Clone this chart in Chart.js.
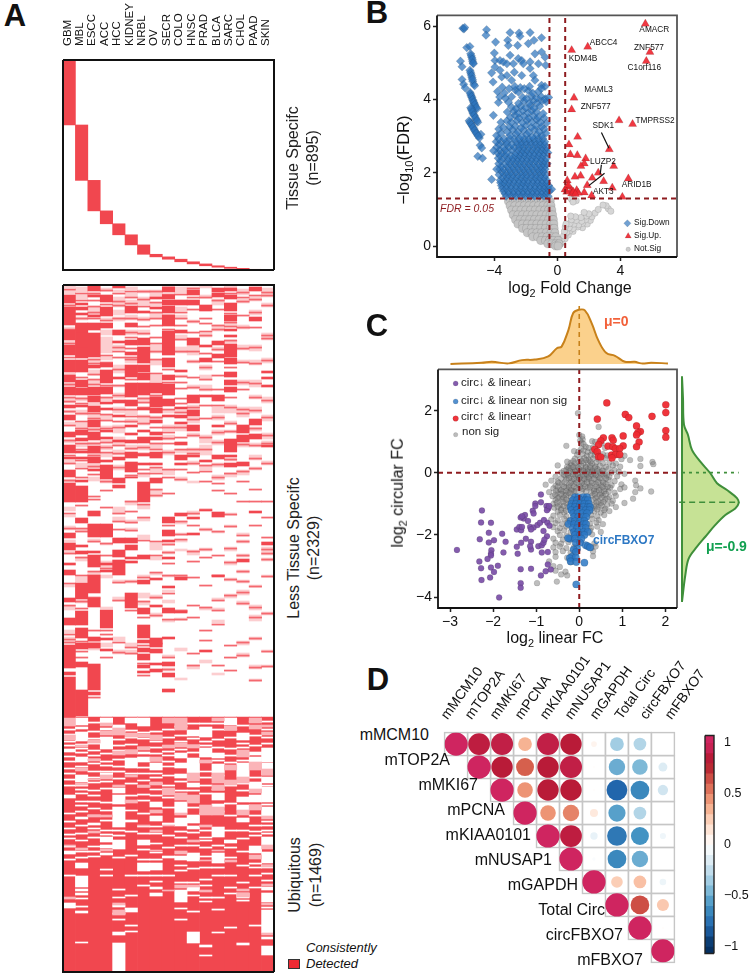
<!DOCTYPE html>
<html>
<head>
<meta charset="utf-8">
<title>circRNA panels</title>
<script src="https://cdn.jsdelivr.net/npm/chart.js@4/dist/chart.umd.min.js"></script>
<style>
html,body{margin:0;padding:0;background:#fff;width:750px;height:975px;overflow:hidden;font-family:"Liberation Sans",Arial,sans-serif;color:#111}
canvas{position:absolute}
.t{position:absolute;white-space:nowrap;line-height:1.15}
.t sub{font-size:68%;line-height:0}
</style>
</head>
<body>
<script>
// ---------- panel A ----------
const tissues = ['GBM','MBL','ESCC','ACC','HCC','KIDNEY','NRBL','OV','SECR','COLO','HNSC','PRAD','BLCA','SARC','CHOL','PAAD','SKIN'];
// last row of each tissue's block, n=895 rows in all
const specificEnd = [277,513,643,698,745,788,828,839,849,860,869,877,883,888,892,894,895];

// bands in the lower matrix, as start,end pairs per tissue (687 binned rows, top down)
const lessSolid = [
 [10,18,22,40,45,55,60,70,75,87,90,97,102,110,120,123,130,135,147,152,160,168,172,174,185,192,198,217,248,253,258,265,278,280,285,290,313,317,333,340,360,383,387,390,392,432],
 [18,20,22,25,28,30,38,48,48,63,63,73,75,87,95,102,103,110,120,122,145,150,153,156,166,168,172,174,195,197,201,217,233,238,260,262,266,269,298,314,326,340,343,353,358,364,377,382,405,431],
 [0,6,10,12,30,32,38,45,48,72,80,83,102,110,111,117,121,127,135,142,147,155,161,168,172,178,184,186,226,231,239,252,266,268,270,282,290,308,313,322,352,356,358,363,379,405,407,410],
 [10,17,22,31,38,43,78,82,85,98,102,109,117,119,123,125,145,147,152,154,175,177,180,194,239,252,278,280,285,287,325,343,353,355,364,366],
 [0,3,45,50,56,58,92,94,115,118,130,132,155,157,172,175,193,198,200,203,253,258,265,272,275,290],
 [21,28,38,42,55,60,67,70,80,92,98,112,115,121,140,142,148,150,155,158,167,173,177,187,192,193,253,258,260,265,272,274,276,278,308,323],
 [26,28,53,60,62,78,80,87,88,95,98,110,123,125,145,147,152,158,169,171,178,180,197,217,270,274,295,299,323,329,340,353,355,358,363,367,369,375,380,383,386,388],
 [12,14,22,24,98,108,112,122,123,128,135,138,147,150,152,155,167,173,178,180,193,198,293,295,320,322,353,362,364,368,378,380,384,387],
 [2,7,10,14,15,20,21,28,30,41,46,63,63,70,73,82,90,95,99,110,114,121,130,132,232,238,245,251,255,257,272,274,301,303,323,328,352,354,377,381,388,392,404,407],
 [15,20,45,48,85,87,122,124,130,133,137,139,157,160,170,175,178,180,228,231,292,295,326,328],
 [5,10,15,20,53,60,110,118,125,131,140,146,170,172,232,234,248,250],
 [20,26,60,62,73,77,110,112,175,177,225,226,365,367],
 [3,7,8,12,56,60,69,73,110,116,140,142,170,174,227,232,290,292],
 [3,6,10,14,18,26,30,36,44,46,50,52,59,72,73,79,87,92,95,100,102,107,154,167,170,172,178,182],
 [140,148,150,157,177,181,274,277],
 [2,6,32,36,134,140,149,154,226,228],
 [86,88,92,94,100,102,160,162,257,260]
];
const lessPale = [
 [0,3,5,9,19,21,42,44,56,58,88,90,98,101,112,118,125,128,137,140,154,158,175,178,194,197,222,226,230,232,241,245,255,257,266,268,300,302,321,325,345,348,352,358],
 [2,7,10,14,32,35,112,116,125,130,138,143,158,162,178,182,244,246,272,276,292,297,315,318],
 [8,10,22,30,74,78,85,90,95,100,118,120,128,134,143,146,157,160,168,171,179,183,192,196,254,257,287,290,356,358,363,365],
 [3,6,33,36,45,50,52,68,72,75,100,101,112,116,130,135,141,144,155,158,160,165,168,172,195,198,258,260,276,283,290,293,322,324,358,362],
 [5,7,12,22,25,30,32,36,60,65,80,88,100,102,108,113,122,128,140,148,152,160,165,170,180,185,222,228,232,236,295,298,312,316,352,356,365,369],
 [2,5,8,12,15,20,30,35,45,50,72,78,125,130,134,138,160,165,190,192,216,220,235,238,243,246,295,298,358,362,365,369],
 [5,8,12,20,32,36,45,50,112,118,130,140,160,165,188,192,220,224,233,236,250,254,290,293,308,313,316,320],
 [5,12,18,21,28,34,60,68,75,80,90,97,110,112,131,134,158,164,183,187,205,212,258,265,272,275,288,290,310,314,328,332],
 [0,2,125,128,140,146,150,155,165,170,185,190,258,260,266,269,290,292,305,307,315,318,335,337,370,372,383,386],
 [2,8,22,26,30,34,50,55,62,68,90,92,125,128,140,146,165,168,192,196,236,239,248,250,255,257,264,266,290,292,325,327,333,335,363,366,393,395],
 [2,4,35,38,60,70,75,78,100,104,120,125,132,138,148,152,163,170,176,180,196,198,226,230,265,270,380,384],
 [0,3,10,13,48,52,80,85,90,95,100,106,150,158,160,170,180,185,243,246,263,266,322,325,375,378],
 [14,20,40,46,62,66,122,128,130,135,145,150,155,160,178,182,190,195,246,248,313,315,323,325,335,338,388,390],
 [0,3,37,42,55,58,120,128,136,140,145,148,173,176,188,192,228,230,240,242,262,266,276,280,293,296,309,313],
 [4,10,14,18,40,44,60,65,75,78,95,100,122,132,158,162,185,190,248,250,255,258,269,272,285,288,295,298,305,310,316,320,356,360,368,372],
 [12,16,25,30,60,66,75,80,95,102,110,114,122,128,142,146,158,162,170,175,182,185,300,302,320,325,330,336,352,355,380,384,394,396],
 [3,12,18,22,48,55,73,78,112,118,130,136,148,154,156,160,176,180,262,270,273,276,290,292,327,330,365,367,380,382]
];
// single thin detected lines, start bin only
const lessThin = [
 [4,20,44,58,72,99,112,116,126,140,155,170,178,195,228,243,268,298,320,349,354,357],
 [8,15,33,92,113,118,128,136,143,158,164,175,183,192,220,243,246,272,290,316,323,356,366,372],
 [8,15,21,27,33,74,78,89,94,99,128,133,144,158,170,181,189,211,214,256,286,312,345,412],
 [5,19,35,70,77,100,112,129,135,143,157,162,167,196,205,222,258,270,283,345,349,372],
 [8,16,20,33,62,66,72,84,100,110,124,136,142,160,168,182,228,236,244,297,315,357,367],
 [6,12,18,33,47,52,63,72,74,94,124,131,136,163,168,190,216,226,237,245,296,325,362,368],
 [6,14,21,34,41,48,113,117,122,131,138,162,168,184,188,219,232,255,292,316,332,360,378,390],
 [6,17,27,33,40,52,58,66,74,88,110,132,142,158,164,182,188,204,210,256,270,287,312,330,358],
 [9,30,44,84,97,124,142,147,153,158,167,184,192,208,240,259,267,278,290,308,334,372,384],
 [9,27,33,40,54,66,91,97,103,113,118,127,142,152,164,184,194,236,249,254,290,325,334],
 [3,12,24,36,47,66,76,92,102,122,134,150,164,168,178,187,228,240,266,276,292,320,332,368,380],
 [12,33,38,46,50,68,82,94,104,120,133,152,164,180,186,196,224,244,264,272,300,322,345,355],
 [15,24,40,44,64,76,90,104,120,132,147,157,179,192,198,205,246,270,290,315,325,339,380],
 [8,28,37,41,55,82,112,122,138,146,174,188,208,229,241,263,277,294,310,360,372,385],
 [7,12,16,30,42,63,77,97,104,124,128,159,186,196,216,250,256,270,286,296,307,318,357,370],
 [10,14,27,42,62,78,98,112,125,143,160,173,183,204,216,240,301,322,332,353,382,395],
 [7,10,20,50,53,75,115,132,150,158,178,216,232,252,264,268,274,291,328,366,381]
];
// ubiquitous block is filled from row 432 down, these are the undetected / partial bands in it
const ubiquitousStart = 432, matrixEnd = 687;
const ubiGaps = [
 [464,467,471,472,476,477,483,484,510,513,528,529,543,544,553,554,566,569,618,623],
 [433,440,442,444,447,456,472,477,490,497,508,509,516,517,532,534,555,556,578,583,591,602,604,606,608,610,613,614,626,628,657,658],
 [465,466,478,479,486,487,497,498,505,506,523,524,538,540,543,544,561,562,571,572],
 [433,438,443,445,452,464,488,491,525,526,545,546,552,557,560,563,568,570],
 [440,443,465,466,503,508,510,519,522,542,555,564,612,613,620,622,647,650,658,686],
 [433,438,473,483,525,526,535,537,623,627,646,647],
 [433,441,467,469,472,477,488,489,495,496,541,542,555,560,578,586],
 [478,485,488,489,504,505,517,522,531,536,541,542,558,559,567,568,578,585,602,604,608,611],
 [470,471,481,482,538,540,571,573],
 [468,473,478,483,489,493,517,528,533,541,571,575,580,581,605,617,623,624],
 [445,451,473,488,498,502,530,538,541,544,568,576,602,606,610,611,647,658],
 [442,452,463,472,486,487,552,553,555,556,571,572,600,601,616,617,660,662,670,671],
 [468,473,479,488,508,515,519,522,542,552,568,578,647,648],
 [433,440,555,558,608,609],
 [448,455,478,492,512,517,520,525,533,537,608,613,658,660],
 [467,470,472,477,497,504,510,517,546,547,561,568,582,583,602,603],
 [463,477,478,490,492,498,502,517,522,531,540,541,552,560,567,578,580,583,602,605,608,617,625,648,652,654,661,670]
];
const ubiPale = [
 [433,441,450,455,560,561,612,614],
 [460,462,483,486,498,500,563,565],
 [455,458,474,476,494,495,530,532,546,548],
 [438,441,446,450,490,494,530,532,564,566],
 [443,450,466,470,500,502,618,620,625,630],
 [448,452,465,469,490,492,515,518],
 [449,452,462,465,500,502,540,541],
 [450,455,472,476,497,500,525,528,545,547,565,566],
 [433,438,460,463,503,510,540,541,605,606],
 [433,445,458,462,508,515,528,530,566,569,600,603],
 [460,463,488,496,510,518,555,557,600,602],
 [475,478,520,530,540,542,575,576,605,607],
 [433,436,488,498,500,505,522,530,565,566],
 [441,445,480,485,495,500,575,577],
 [465,472,492,498,525,530,604,606,608,612],
 [433,438,440,444,477,485,504,508,520,525,570,574],
 [440,442,447,450,484,490,531,534,560,564,580,582,599,601,618,620,648,650]
];
// one-bin white lines in the ubiquitous block
const ubiThin = [
 [444,449,456,460,488,494,500,536,549,561,574,590],
 [459,463,467,481,500,504,520,526,540,548,566,572,621],
 [437,446,453,458,470,474,492,510,516,530,552,566],
 [448,468,476,480,486,496,503,517,535,549,584,590],
 [446,454,460,474,481,486,493,545,550,572,604,628,634],
 [445,452,459,465,488,498,510,546,570,590,610,640],
 [447,453,462,482,501,509,515,528,548,564,574,590,600],
 [446,456,462,468,475,492,498,510,548,574,590,596],
 [444,452,461,466,476,490,500,512,522,550,562,590],
 [441,450,456,464,496,505,546,552,560,585,597,634],
 [438,453,460,467,491,505,522,547,560,583,597,626],
 [438,456,460,476,492,500,508,528,545,562,582,594,612],
 [438,444,454,462,475,490,504,526,560,582,590,612,624],
 [444,452,463,470,477,500,518,530,545,562,572,590,602,642],
 [440,458,462,470,475,498,505,545,553,566,580,597,615],
 [436,450,460,480,492,520,530,540,550,578,590,640],
 [436,444,452,458,500,519,536,545,548,588,595,622]
];

// ---------- panel B ----------
// rows of [ -log10 FDR, [log2 FC ...] ] for the tightly packed part
const downRows = [
 [1.36,[-3.25,-2.9,-2.62,-2.3,-2.02,-1.7,-1.45,-1.12,-.85,-.58]],
 [1.43,[-3.32,-3.05,-2.76,-2.45,-2.15,-1.87,-1.58,-1.28,-.98,-.72]],
 [1.5,[-3.42,-3.1,-2.78,-2.47,-2.18,-1.88,-1.57,-1.27,-.98,-.7,-.5]],
 [1.58,[-3.5,-3.25,-2.95,-2.62,-2.33,-2.03,-1.72,-1.42,-1.12,-.84,-.6]],
 [1.65,[-3.55,-3.22,-2.93,-2.6,-2.3,-2.02,-1.72,-1.4,-1.1,-.82,-.55]],
 [1.73,[-3.6,-3.38,-3.08,-2.78,-2.46,-2.18,-1.88,-1.56,-1.25,-.96,-.68]],
 [1.8,[-3.62,-3.3,-3.02,-2.72,-2.42,-2.12,-1.85,-1.52,-1.25,-.95,-.68]],
 [1.88,[-3.48,-3.18,-2.88,-2.58,-2.28,-1.98,-1.68,-1.38,-1.1,-.82]],
 [1.95,[-3.7,-3.35,-3.1,-2.82,-2.5,-2.2,-1.93,-1.62,-1.32,-1.02,-.72]],
 [2.03,[-3.52,-3.22,-2.92,-2.62,-2.3,-2.02,-1.72,-1.42,-1.12,-.88]],
 [2.1,[-3.65,-3.4,-3.05,-2.75,-2.45,-2.15,-1.85,-1.55,-1.25,-1.0,-.78]],
 [2.18,[-3.56,-3.16,-2.86,-2.55,-2.25,-1.96,-1.66,-1.36,-1.06,-.78]],
 [2.25,[-3.72,-3.3,-3.0,-2.68,-2.4,-2.1,-1.8,-1.5,-1.18,-.9,-.65]],
 [2.33,[-3.6,-3.15,-2.85,-2.55,-2.26,-1.95,-1.66,-1.36,-1.04,-.8]],
 [2.4,[-3.75,-3.45,-3.1,-2.8,-2.5,-2.22,-1.9,-1.6,-1.3,-1.0,-.7]],
 [2.48,[-3.65,-3.32,-2.95,-2.66,-2.38,-2.08,-1.78,-1.48,-1.18,-.9]],
 [2.55,[-3.8,-3.5,-3.2,-2.62,-2.3,-2.05,-1.75,-1.45,-1.15,-.85,-.6]],
 [2.63,[-3.66,-3.3,-2.88,-2.48,-2.2,-1.9,-1.6,-1.3,-1.0,-.75]],
 [2.7,[-3.85,-3.42,-3.05,-2.72,-2.4,-2.12,-1.82,-1.5,-1.22,-.95,-.68]],
 [2.78,[-3.7,-3.2,-2.88,-2.5,-2.25,-1.95,-1.65,-1.35,-1.08,-.82]],
 [2.85,[-3.88,-3.55,-3.22,-2.6,-2.28,-2.0,-1.7,-1.4,-1.1,-.8]],
 [2.93,[-3.72,-3.38,-3.0,-2.72,-2.4,-2.08,-1.8,-1.48,-1.18,-.92]]
];
// the looser points, x,y pairs
const downLoose = [-4.49,5.91,-4.53,5.76,-3.92,5.57,-3.0,5.83,-3.15,5.62,-3.11,5.48,-2.52,5.48,-2.43,5.82,-2.37,5.73,-1.73,5.83,-1.48,5.62,-1.84,5.53,-1,5.69,-4.0,5.27,-3.0,5.21,-1.42,5.25,-1,5.3,-1.73,5.03,-2.48,5.12,-2.26,5.07,-.78,5.16,-3.96,5.07,-3.64,5.07,-3.43,5.03,-3.2,4.98,-4.17,4.73,-3.96,4.89,-3.64,4.8,-3.53,4.62,-4.08,4.48,-2.79,4.98,-2.16,4.98,-1.73,4.85,-1.2,4.98,-.74,4.94,-2.26,4.66,-1.52,4.66,-1.42,4.53,-1,4.39,-.78,4.36,-2.73,4.75,-3.2,4.66,-2.9,4.53,
 -3.0,3.02,-2.62,3.06,-2.28,3.0,-1.94,3.05,-1.58,2.99,-1.28,3.04,-.98,3.02,-.72,3.08,-3.86,3.02,-3.58,3.08,-3.16,3.12,-2.84,3.18,-2.5,3.12,-2.14,3.17,-1.8,3.11,-1.44,3.18,-1.14,3.13,-.84,3.2,-3.72,3.2,-3.42,3.24,-3.02,3.26,-2.66,3.28,-2.3,3.23,-1.98,3.3,-1.66,3.24,-1.34,3.29,-1.0,3.26,-.68,3.36,-3.58,3.38,-3.2,3.42,-2.92,3.38,-2.56,3.43,-2.22,3.37,-1.92,3.43,-1.6,3.39,-1.3,3.45,-1.06,3.38,-.84,3.5,-2.98,3.52,-2.68,3.57,-2.42,3.5,-2.12,3.55,-1.82,3.5,-1.52,3.56,-1.22,3.52,-3.18,3.66,-2.76,3.68,-2.46,3.63,-2.18,3.7,-1.86,3.64,-1.62,3.7,-1.32,3.66,-.9,3.62,-2.92,3.8,-2.62,3.76,-2.32,3.82,-2.0,3.78,-1.7,3.83,-1.46,3.77,-1.12,3.82,-3.74,3.92,-3.1,3.93,-2.46,3.9,-2.12,3.96,-1.76,3.91,-1.5,3.97,-1.26,3.92,-.96,3.96,-.7,3.94,-3.66,4.07,-3.3,4.04,-2.9,4.08,-2.2,4.06,-1.95,4.03,-1.62,4.09,-1.3,4.05,-1.02,4.08,-.76,4.02,-.55,4.06,-3.8,4.22,-3.36,4.18,-2.66,4.26,-2.46,4.2,-1.84,4.24,-1.56,4.18,-1.2,4.22,-3.5,4.34,-3.06,4.3,-2.7,4.36,-2.35,4.33,-2.1,4.3,-1.76,4.36,-1.02,4.3,
 -6.0,5.95,-5.93,5.93,-5.88,5.97,-5.75,5.42,-5.55,5.45,-5.5,5.25,-5.43,5.15,-5.38,5.05,-5.33,4.98,-5.47,5.2,-5.4,5.1,-5.35,5.0,-6.15,5.05,-6.05,4.9,-5.55,4.8,-5.48,4.7,-5.42,4.6,-5.37,4.5,-5.3,4.42,-5.25,4.38,-5.51,4.75,-5.45,4.65,-5.39,4.55,-6.05,4.55,-5.95,4.42,-5.85,4.32,-5.55,4.2,-5.48,4.12,-5.42,4.05,-5.35,3.97,-5.28,3.9,-5.2,3.82,-5.1,3.75,-5.52,4.16,-5.45,4.08,-5.38,4.0,-5.31,3.93,-5.24,3.86,-5.15,3.78,-5.5,3.78,-5.42,3.7,-5.35,3.62,-5.25,3.55,-5.15,3.46,-5.05,3.38,-5.46,3.74,-5.38,3.66,-5.3,3.58,-5.2,3.5,-5.1,3.42,-5.6,3.42,-5.5,3.35,-5.4,3.28,-5.3,3.2,-5.2,3.12,-5.08,3.04,-4.95,2.95,-4.85,3.05,-5.55,3.38,-5.45,3.31,-5.35,3.24,-5.25,3.16,-5.14,3.08,-5.02,3.0,-4.9,2.75,-4.8,2.68,-5.05,2.45,-4.75,2.4,
 -4.06,3.57,-4.05,2.6,-4.17,1.82,-3.85,2.1,-.36,1.55];
const upPoints = [5.59,6.07,1.93,5.44,.91,5.35,5.88,5.30,5.65,5.05,1.06,4.05,.91,3.73,3.92,3.43,4.78,3.33,1.29,2.98,.74,2.77,3.30,2.64,.83,2.50,1.27,2.48,1.8,2.39,1.71,2.25,1.5,2.18,3.58,2.18,2.6,2.0,1.48,1.92,1.12,1.89,2.22,1.86,4.51,1.84,2.94,1.77,.63,1.79,1.9,1.66,3.49,1.59,.65,1.62,.49,1.54,.91,1.52,1.23,1.52,1.71,1.46,2.18,1.38,4.13,1.34,.91,1.43,1.33,1.45,.7,1.66,.6,1.48,1.02,1.48,1.15,1.42];
const notSigLeftRows = [
 [1.22,[-3.1,-2.8,-2.5,-2.2,-1.9,-1.6,-1.3,-1.0,-.7,-.45]],
 [1.1,[-3.0,-2.7,-2.4,-2.1,-1.8,-1.5,-1.2,-.9,-.6,-.4]],
 [.98,[-2.9,-2.6,-2.3,-2.0,-1.7,-1.4,-1.1,-.8,-.55,-.35]],
 [.85,[-2.8,-2.5,-2.2,-1.9,-1.6,-1.3,-1.0,-.7,-.45,-.3]],
 [.72,[-2.65,-2.35,-2.05,-1.75,-1.45,-1.15,-.85,-.55,-.3,-.25]],
 [.6,[-2.5,-2.2,-1.9,-1.6,-1.3,-1.0,-.7,-.42,-.22]],
 [.48,[-2.2,-1.95,-1.65,-1.35,-1.05,-.75,-.45,-.2]],
 [.36,[-1.9,-1.6,-1.3,-1.0,-.7,-.4,-.15]],
 [.25,[-1.55,-1.25,-.95,-.65,-.35,-.1]],
 [.15,[-1.05,-.75,-.5,-.25,.05]],
 [.06,[-.6,-.35,-.1,.1]],
 [.0,[-.1,.05]]
];
const notSigRight = [.2,.05,.35,.12,.15,.12,.5,.2,.3,.2,.7,.3,.5,.31,.4,.28,1.0,.4,.8,.42,.6,.38,.45,.4,1.6,.5,1.3,.52,1.0,.48,.75,.5,.5,.52,1.9,.6,1.6,.62,1.35,.58,1.05,.6,.8,.62,.55,.6,2.1,.7,1.8,.72,1.55,.68,1.2,.7,.9,.72,2.2,.8,1.85,.82,1.5,.78,1.15,.8,.85,.82,2.4,.9,2.0,.88,1.7,.92,2.6,1.0,3.24,1.02,3.4,.95,3.1,1.1,2.9,1.12,1.2,1.24,.9,1.28,1.0,1.2];
const volcanoCuts = {fcLow:-.5, fcHigh:.5, fdr:1.3};
const volcanoXTicks = [-4,0,4], volcanoYTicks = [0,2,4,6];

// ---------- panel C ----------
const bothUp = [.64,2.25,.42,1.73,1.07,1.88,1.15,1.78,1.69,1.82,2.01,2.19,2.01,1.94,2.01,1.36,2.01,1.15,1.33,1.51,1.42,1.33,1.36,1.29,1.33,1.22,1.02,1.19,1.39,.99,1.33,.84,1.02,.87,.76,1.13,.79,1.05,.56,1.13,.5,1.03,.45,.91,.36,.76,.67,.86,.78,.84,.84,.78,.94,.78,.42,.68,.45,.52,.75,.57,.84,.59,.94,.59,.76,.48,.5,.51];
const bothDown = [-2.84,-2.48,-2.26,-1.21,-2.28,-1.6,-2.05,-1.61,-2.1,-1.93,-2.31,-2.14,-2.1,-2.24,-1.98,-2.17,-1.79,-1.96,-1.71,-2.22,-2.04,-2.49,-2.05,-2.6,-1.76,-2.56,-2.05,-2.66,-2.13,-2.77,-2.32,-2.85,-2.28,-3.07,-2.05,-3.05,-1.89,-2.99,-1.98,-3.19,-2.07,-3.37,-2.27,-3.45,-1.86,-4.01,-1.36,-3.1,-1.12,-3.09,-1.36,-3.55,-1.36,-3.7,-.89,-3.3,-.78,-3.17,-.66,-3.11,-.73,-2.95,-1.43,-2.6,-1.12,-2.47,-1.45,-2.38,-1.35,-2.25,-1.24,-2.12,-1.12,-2.22,-1.14,-2.36,-.95,-2.36,-.87,-2.33,-.83,-2.25,-.75,-2.04,-.81,-2.15,-.87,-2.56,-.73,-2.55,-1.45,-1.82,-1.39,-1.74,-1.35,-1.85,-1.33,-1.74,-1.29,-1.47,-1.36,-1.44,-1.26,-1.36,-1.19,-1.55,-1.14,-1.74,-1.06,-1.76,-1.12,-1.82,-.97,-1.68,-.91,-1.61,-.82,-1.52,-.74,-1.61,-.69,-1.7,-.83,-1.87,-1.08,-1.22,-1.02,-.99,-.89,-.95,-1.02,-1.07,-.89,-.7,-.76,-1.07,-.72,-1.15,-.75,-1.2,-.7,-1.07,-1.06,-1.31,-1.33,-1.4];
const circOnlyRows = [
 [-.78,[-.1,-.02,.1,.18]],[-.88,[-.15,-.05,.05,.14,.2]],[-1,[-.18,-.08,.02,.12,.22]],[-1.1,[-.2,-.1,0,.1,.2,.25]],
 [-1.2,[-.18,-.06,.04,.15,.24]],[-1.3,[-.14,-.04,.08,.18]],[-1.42,[-.12,-.02,.1,.16]],[-1.55,[-.2,-.1,.02,.12]],
 [-1.65,[-.25,-.12,-.02,.1,.16]],[-1.78,[-.15,-.05,.06,.15]],[-1.9,[-.12,-.02,.1,.2]],[-2.0,[-.1,.02,.12]],
 [-2.12,[-.22,-.1,.05]],[-2.25,[-.08,.02]]
];
const circOnlyLoose = [-.05,-2.45,-.13,-2.47,.15,-2.33,.2,-2.36,.25,-2.4,-.08,-2.55,-.17,-2.7,-.22,-2.75,-.08,-2.72,-.2,-2.85,-.07,-2.87,.12,-2.89,-.07,-3.59,-.26,-2.1];
const notSigC = [-.03,1.92,.45,1.48,0,1.22,.07,1.17,.08,1.08,.02,1.04,.3,1.02,.05,.97,.1,.93,.37,1.0,.52,.95,-.3,.87,.15,.84,.22,.8,.33,.83,.6,.8,.05,.78,-.12,.7,-.02,.68,.1,.72,.2,.67,.3,.7,.4,.66,-.05,.58,.08,.6,.18,.55,.27,.58,.36,.56,.55,.6,.65,.56,.9,.57,1.05,.55,-.1,.46,.02,.43,.12,.47,.22,.42,.32,.46,.45,.43,.6,.47,.98,.44,1.18,.41,1.42,.45,-.2,.32,-.1,.3,0,.34,.1,.3,.2,.33,.3,.29,.4,.34,.55,.3,.7,.33,.85,.3,1.7,.35,1.72,.28,-.5,.24,-.28,.2,-.18,.24,-.06,.2,.05,.23,.15,.19,.26,.24,.38,.2,.48,.23,.62,.19,.78,.24,.95,.2,1.42,.22,-.3,.1,-.2,.13,-.1,.08,0,.12,.1,.08,.2,.12,.3,.08,.42,.12,.55,.08,.68,.13,.82,.09,
 -.42,.01,-.28,-.03,-.15,.02,-.05,-.03,.05,.02,.15,-.02,.25,.03,.35,-.02,.48,.02,.6,-.03,.75,.01,.92,.03,1.05,-.03,-.55,-.12,-.32,-.1,-.2,-.14,-.08,-.1,.02,-.14,.12,-.1,.22,-.13,.32,-.09,.45,-.14,.58,-.1,.7,-.13,.88,-.11,-.65,-.25,-.5,-.28,-.3,-.22,-.18,-.27,-.06,-.23,.06,-.27,.18,-.22,.28,-.27,.42,-.23,.55,-.28,.68,-.23,.82,-.27,1.3,-.25,-.78,-.38,-.55,-.41,-.4,-.36,-.25,-.4,-.12,-.35,0,-.4,.12,-.36,.25,-.41,.38,-.36,.5,-.4,.62,-.36,.75,-.4,.98,-.37,1.32,-.4,1.42,-.5,
 -.6,-.5,-.45,-.54,-.3,-.48,-.18,-.53,-.06,-.49,.08,-.52,.2,-.48,.34,-.53,.46,-.49,.6,-.52,.72,-.48,.95,-.52,1.05,-.47,1.67,-.6,-.7,-.62,-.5,-.65,-.38,-.6,-.25,-.64,-.12,-.6,.28,-.64,.4,-.6,.52,-.65,.68,-.6,.82,-.64,1.3,-.62,-.62,-.75,-.48,-.78,-.35,-.73,-.2,-.77,.3,-.73,.42,-.77,.55,-.73,.7,-.78,.85,-.74,-.55,-.88,-.4,-.85,-.25,-.9,.32,-.86,.45,-.9,.6,-.86,.78,-.9,1.25,-.83,1.05,-.97,-.6,-1.0,-.45,-1.03,-.3,-.98,.35,-1.02,.5,-.98,.65,-1.03,.75,-.99,-.58,-1.12,-.42,-1.15,-.28,-1.1,.3,-1.14,.45,-1.1,.6,-1.15,.85,-1.1,-.5,-1.25,-.35,-1.28,.35,-1.24,.5,-1.28,.7,-1.23,
 -.6,-1.38,-.45,-1.35,-.3,-1.4,.28,-1.36,.42,-1.4,.58,-1.36,-.65,-1.5,-.5,-1.53,-.35,-1.48,-.22,-1.52,.3,-1.48,.45,-1.52,-.55,-1.62,-.4,-1.65,-.28,-1.6,.25,-1.64,.4,-1.6,.55,-1.65,-.6,-1.75,-.45,-1.78,-.3,-1.73,.28,-1.77,.42,-1.73,-.5,-1.88,-.35,-1.85,-.2,-1.9,.25,-1.86,.5,-1.9,-.45,-2.0,-.3,-2.03,.3,-1.98,-.6,-2.12,-.38,-2.15,-.2,-2.1,-.55,-2.25,-.42,-2.28,-.25,-2.23,.35,-2.27,-.6,-2.4,-.45,-2.37,-.3,-2.42,-.12,-2.38,.28,-2.42,.38,-2.37,-.55,-2.55,-.38,-2.52,-.2,-2.57,.32,-2.53,-.55,-2.7,-.28,-2.73,.32,-2.68,-.7,-2.85,-.2,-2.88,-.6,-3.0,-.45,-3.03,-.55,-3.15,-.32,-3.18,-.28,-3.3,-.42,-3.27,-.98,-3.55,-.52,-3.5];
// packed middle of the grey cloud
const notSigCore = [-.28,.36,-.14,.38,.06,.38,.16,.41,.26,.37,-.24,.16,-.14,.18,-.02,.17,.15,.15,.26,.16,.36,.15,-.36,.06,-.22,.05,-.1,.04,.1,.05,.2,.04,.3,.04,.42,.05,.54,.06,-.36,-.06,-.26,-.07,-.14,-.05,-.03,-.06,.08,-.07,.18,-.05,.28,-.06,.38,-.07,.5,-.05,.64,-.07,-.42,-.18,-.24,-.17,-.12,-.19,0,-.18,.12,-.2,.22,-.18,.34,-.19,.48,-.17,.62,-.18,-.48,-.32,-.34,-.3,-.2,-.33,-.06,-.31,.06,-.33,.18,-.3,.3,-.33,.44,-.31,.56,-.32,-.5,-.45,-.36,-.44,-.24,-.46,-.12,-.44,.02,-.46,.14,-.44,.26,-.46,.4,-.44,.54,-.46,.66,-.44,-.54,-.58,-.42,-.56,-.3,-.59,-.18,-.57,-.08,-.6,.06,-.58,.16,-.6,.34,-.58,.46,-.56,.58,-.59,-.56,-.7,-.42,-.68,-.3,-.71,-.22,-.66,.36,-.68,.48,-.7,.62,-.68,-.5,-.83,-.36,-.8,-.3,-.86,.38,-.82,.52,-.8,.66,-.84,-.52,-.96,-.38,-.94,.4,-.95,.56,-.94,-.5,-1.08,-.36,-1.06,.38,-1.07,.52,-1.05,-.42,-1.2,-.3,-1.22,.42,-1.18,.58,-1.2];
// marginal curves, x,density pairs
const linearDensity = [-2.99,0,-2.27,.02,-2.03,.04,-1.64,.01,-1.33,.07,-1.03,.08,-.72,.14,-.52,.29,-.41,.32,-.25,.63,-.14,.94,-.01,1.0,.13,.99,.29,.75,.44,.44,.63,.2,.83,.15,1.06,.04,1.29,.04,1.44,.01,1.67,.02,2.06,.01];
const circularDensity = [0,3.09,.018,2.39,.035,1.54,.106,1.21,.176,.73,.324,.35,.5,-.02,.618,-.34,.794,-.56,.97,-.82,1,-.98,.94,-1.15,.765,-1.36,.588,-1.68,.412,-2.06,.265,-2.38,.118,-2.76,.059,-3.29,0,-4.15];
const scatterXTicks = [-3,-2,-1,0,1,2], scatterYTicks = [-4,-2,0,2];

// ---------- panel D ----------
const corrLabels = ['mMCM10','mTOP2A','mMKI67','mPCNA','mKIAA0101','mNUSAP1','mGAPDH','Total Circ','circFBXO7','mFBXO7'];
const corrLabelRight = [429,450,478,505,531,552,578,605,623,643];
const corrRows = [
 [1,.88,.9,.35,.9,.85,.06,-.35,-.3,0],
 [1,.85,.6,.85,.9,.01,-.5,-.45,-.15],
 [1,.45,.85,.85,.01,-.8,-.65,-.2],
 [1,.45,.5,.12,-.55,-.3,0],
 [1,.88,-.1,-.72,-.6,-.07],
 [1,-.02,-.65,-.5,0],
 [1,.25,.3,-.08],
 [1,.65,.27],
 [1,.01],
 [1]
];
const rampStops = [-1,-.8,-.6,-.4,-.2,0,.2,.4,.6,.8,1];
const rampColors = ['#053061','#2166ac','#4393c3','#92c5de','#d1e5f0','#ffffff','#fddbc7','#f4a582','#d6604d','#b2182b','#cf2560'];
const colorbarEdges = [-1.07,-1,-.9,-.8,-.7,-.6,-.5,-.4,-.3,-.2,-.1,0,.1,.2,.3,.4,.5,.6,.7,.8,.9,1,1.07];
const colorbarTicks = [-1,-.5,0,.5,1];

// ---------- helpers ----------
const DARK_RED = '#8e1b1f';
const pairs = arr => { const out = []; for (let i = 0; i < arr.length; i += 2) out.push({x: arr[i], y: arr[i + 1]}); return out; };
const fromRows = rows => rows.flatMap(r => r[1].map(x => ({x, y: r[0]})));
const bands = lists => lists.flatMap((l, k) => { const out = []; for (let i = 0; i < l.length; i += 2) out.push({x: tissues[k], y: [l[i], l[i + 1]]}); return out; });
const lines = lists => lists.flatMap((l, k) => l.map(s => ({x: tissues[k], y: [s, s + 1.1]})));
const minus = v => String(v).replace('-', '\u2212');

function rgb(hex) { return [1, 3, 5].map(i => parseInt(hex.substr(i, 2), 16)); }
function ramp(v) {
  v = Math.max(-1, Math.min(1, v));
  let i = 0;
  while (i < rampStops.length - 2 && v > rampStops[i + 1]) i++;
  const f = (v - rampStops[i]) / (rampStops[i + 1] - rampStops[i]);
  const a = rgb(rampColors[i]), b = rgb(rampColors[i + 1]);
  return 'rgb(' + a.map((c, n) => Math.round(c + (b[n] - c) * f)).join(',') + ')';
}

// keeps the plot box where it belongs: axes get a fixed size, the rest is padding
function place(area, m, cfg) {
  const [l, t, r, b] = area;
  const c = document.createElement('canvas');
  c.width = r - l + m.l + m.r;
  c.height = b - t + m.t + m.b;
  c.style.left = (l - m.l) + 'px';
  c.style.top = (t - m.t) + 'px';
  document.body.appendChild(c);
  const pad = {left: m.l, right: m.r, top: m.t, bottom: m.b};
  Object.values(cfg.options.scales).forEach(s => {
    if (s.display === false) return;
    const pos = s.position;
    if (pos === 'left') { pad.left = 0; s.afterFit = a => { a.width = m.l; }; }
    if (pos === 'right') { pad.right = 0; s.afterFit = a => { a.width = m.r; }; }
    if (pos === 'bottom') { pad.bottom = 0; s.afterFit = a => { a.height = m.b; }; }
    if (pos === 'top') { pad.top = 0; s.afterFit = a => { a.height = m.t; }; }
  });
  // listed in paint order here, Chart.js paints the first dataset last
  cfg.data.datasets.reverse();
  cfg.options.layout = {padding: pad};
  cfg.options.responsive = false;
  cfg.options.animation = false;
  cfg.options.events = [];
  cfg.options.plugins = Object.assign({legend: {display: false}, tooltip: {enabled: false}}, cfg.options.plugins);
  return new Chart(c, cfg);
}

const frame = (left, top, width) => ({
  id: 'frame',
  afterDraw(chart) {
    const {ctx, chartArea: a} = chart;
    ctx.save();
    ctx.lineWidth = width;
    ctx.strokeStyle = top;
    ctx.beginPath(); ctx.moveTo(a.left, a.top); ctx.lineTo(a.right, a.top); ctx.lineTo(a.right, a.bottom); ctx.stroke();
    ctx.strokeStyle = left;
    ctx.beginPath(); ctx.moveTo(a.left, a.top); ctx.lineTo(a.left, a.bottom); ctx.lineTo(a.right, a.bottom); ctx.stroke();
    ctx.restore();
  }
});

function txt(html, x, y, css, anchor, rot) {
  const d = document.createElement('div');
  d.className = 't';
  d.innerHTML = html;
  d.style.cssText = 'left:' + x + 'px;top:' + y + 'px;' + (css || '');
  const tx = anchor === 'l' ? '0' : anchor === 'r' ? '-100%' : '-50%';
  d.style.transform = 'translate(' + tx + ',-50%)' + (rot ? ' rotate(' + rot + 'deg)' : '');
  document.body.appendChild(d);
  return d;
}

const tick = (list) => ({
  afterBuildTicks: s => { s.ticks = list.map(value => ({value})); }
});
const axisOpts = (position, min, max, list, size) => Object.assign({
  type: 'linear', position, min, max,
  border: {display: false},
  grid: {display: true, drawOnChartArea: false, drawTicks: true, tickLength: 4, tickColor: '#222', tickWidth: 1.5},
  ticks: {color: '#111', padding: 2, font: {size, family: 'Liberation Sans'}, callback: minus, autoSkip: false, maxRotation: 0}
}, tick(list));
const vline = (x, y0, y1, color, dash, w) => ({type: 'scatter', showLine: true, data: [{x, y: y0}, {x, y: y1}], borderColor: color, borderWidth: w || 2, borderDash: dash, pointRadius: 0});
const hline = (y, x0, x1, color, dash, w) => ({type: 'scatter', showLine: true, data: [{x: x0, y}, {x: x1, y}], borderColor: color, borderWidth: w || 2, borderDash: dash, pointRadius: 0});

// ---------- A: tissue specific block ----------
const RED = '#f1474f', PALE = '#fcced0';
const barDefaults = {barPercentage: 1, categoryPercentage: 1, borderWidth: 0, grouped: false};
place([63, 60, 274, 270], {l: 30, r: 30, t: 58, b: 4}, {
  type: 'bar',
  data: {
    labels: tissues,
    datasets: [{
      data: specificEnd.map((e, i) => ({x: tissues[i], y: [i ? specificEnd[i - 1] : 0, e]})),
      backgroundColor: RED, ...barDefaults
    }]
  },
  options: {
    scales: {
      x: {position: 'top', border: {display: false}, grid: {display: false},
          ticks: {color: '#111', autoSkip: false, minRotation: 90, maxRotation: 90, padding: 6, labelOffset: 12, font: {size: 11.5, family: 'Liberation Sans'}}},
      y: {display: false, reverse: true, min: 0, max: 895}
    }
  },
  plugins: [frame('#111', '#111', 2)]
});

// ---------- A: lower matrix ----------
place([63, 285, 274, 972], {l: 2, r: 2, t: 2, b: 2}, {
  type: 'bar',
  data: {
    labels: tissues,
    datasets: [
      {data: bands(tissues.map(() => [ubiquitousStart, matrixEnd])), backgroundColor: RED, ...barDefaults},
      {data: bands(ubiGaps), backgroundColor: '#ffffff', ...barDefaults},
      {data: lines(ubiThin), backgroundColor: '#ffffff', ...barDefaults},
      {data: bands(ubiPale), backgroundColor: '#fbb4b8', ...barDefaults},
      {data: bands(lessPale), backgroundColor: PALE, ...barDefaults},
      {data: lines(lessThin), backgroundColor: '#f4686f', ...barDefaults},
      {data: bands(lessSolid), backgroundColor: RED, ...barDefaults}
    ]
  },
  options: {
    scales: {
      x: {display: false},
      y: {display: false, reverse: true, min: 0, max: matrixEnd}
    }
  },
  plugins: [frame('#111', '#111', 2)]
});

// ---------- B: volcano ----------
place([437, 15, 677, 257], {l: 32, r: 10, t: 10, b: 22}, {
  type: 'scatter',
  data: {
    datasets: [
      {data: pairs(notSigRight), backgroundColor: '#d6d6d6', pointRadius: 3.2, pointStyle: 'circle'},
      {data: fromRows(notSigLeftRows), backgroundColor: '#c4c4c4', pointRadius: 4.1, pointStyle: 'circle'},
      {data: fromRows(downRows).concat(pairs(downLoose)), backgroundColor: 'rgba(46,117,189,.72)', pointRadius: 4.3, pointStyle: 'rectRot'},
      {data: pairs(upPoints), backgroundColor: 'rgba(238,40,50,.92)', pointRadius: 4.8, pointStyle: 'triangle'},
      vline(volcanoCuts.fcLow, -.3, 6.3, DARK_RED, [5, 4]),
      vline(volcanoCuts.fcHigh, -.3, 6.3, DARK_RED, [5, 4]),
      hline(volcanoCuts.fdr, -7.64, 7.6, DARK_RED, [5, 4]),
      // leader lines
      {type: 'scatter', showLine: true, data: [{x: 2.8, y: 3.1}, {x: 3.28, y: 2.67}], borderColor: '#111', borderWidth: 1.2, pointRadius: 0},
      {type: 'scatter', showLine: true, data: [{x: 2.8, y: 2.22}, {x: 2.72, y: 1.96}], borderColor: '#111', borderWidth: 1.2, pointRadius: 0},
      {type: 'scatter', showLine: true, data: [{x: 3.0, y: 1.99}, {x: 2.0, y: 1.65}], borderColor: '#111', borderWidth: 1.2, pointRadius: 0},
      // legend keys
      {data: [{x: 4.45, y: .62}], backgroundColor: 'rgba(46,117,189,.68)', pointRadius: 3.6, pointStyle: 'rectRot'},
      {data: [{x: 4.5, y: .27}], backgroundColor: 'rgba(238,40,50,.92)', pointRadius: 3.6, pointStyle: 'triangle'},
      {data: [{x: 4.5, y: -.09}], backgroundColor: 'rgba(200,200,200,.9)', pointRadius: 2.2, pointStyle: 'circle'}
    ]
  },
  options: {
    scales: {
      x: axisOpts('bottom', -7.64, 7.6, volcanoXTicks, 14),
      y: axisOpts('left', -.3, 6.3, volcanoYTicks, 14)
    }
  },
  plugins: [frame('#111', '#555', 1.8)]
});

// ---------- C: scatter ----------
const scatterX = [-3.28, 2.27], scatterY = [-4.35, 3.33];
place([438, 369, 677, 608], {l: 32, r: 10, t: 10, b: 22}, {
  type: 'scatter',
  data: {
    datasets: [
      {data: pairs(notSigC).concat(pairs(notSigCore)), backgroundColor: 'rgba(125,125,125,.5)', pointRadius: 2.9},
      {data: pairs(bothDown), backgroundColor: 'rgba(122,78,166,.92)', pointRadius: 3},
      {data: fromRows(circOnlyRows).concat(pairs(circOnlyLoose)), backgroundColor: 'rgba(45,120,196,.85)', pointRadius: 3.7},
      {data: pairs(bothUp), backgroundColor: 'rgba(238,42,50,.95)', pointRadius: 3.6},
      hline(0, scatterX[0], scatterX[1], DARK_RED, [5, 4]),
      vline(0, scatterY[0], scatterY[1], DARK_RED, [5, 4]),
      // legend keys
      {data: [{x: -2.87, y: 2.88}], backgroundColor: 'rgba(122,78,166,.92)', pointRadius: 2.5},
      {data: [{x: -2.87, y: 2.3}], backgroundColor: 'rgba(45,120,196,.82)', pointRadius: 2.5},
      {data: [{x: -2.87, y: 1.75}], backgroundColor: 'rgba(238,42,50,.95)', pointRadius: 2.8},
      {data: [{x: -2.87, y: 1.23}], backgroundColor: 'rgba(170,170,170,.8)', pointRadius: 2.2}
    ]
  },
  options: {
    scales: {
      x: axisOpts('bottom', scatterX[0], scatterX[1], scatterXTicks, 14),
      y: axisOpts('left', scatterY[0], scatterY[1], scatterYTicks, 14)
    }
  },
  plugins: [frame('#111', '#555', 1.8)]
});

// top marginal
place([438, 306, 677, 365], {l: 0, r: 0, t: 0, b: 0}, {
  type: 'scatter',
  data: {
    datasets: [
      {data: pairs(linearDensity), showLine: true, tension: .4, fill: 'origin', backgroundColor: '#fbd18c', borderColor: '#c8811a', borderWidth: 2, pointRadius: 0},
      vline(0, 0, 1.07, '#c8811a', [5, 4], 1.6)
    ]
  },
  options: {scales: {x: {display: false, type: 'linear', min: scatterX[0], max: scatterX[1]}, y: {display: false, type: 'linear', min: -.02, max: 1.07}}}
});

// right marginal
place([672, 369, 750, 608], {l: 0, r: 0, t: 0, b: 0}, {
  type: 'scatter',
  data: {
    datasets: [
      {data: pairs(circularDensity), showLine: true, tension: .35, fill: 'shape', backgroundColor: '#c6e295', borderColor: '#3f8f3a', borderWidth: 2, pointRadius: 0},
      vline(0, -4.15, 3.09, '#3f8f3a', [], 2),
      hline(0, 0, 1, '#3f8f3a', [3, 4], 1.6),
      hline(-.95, -.05, 1.02, '#3f8f3a', [6, 4], 1.6)
    ]
  },
  options: {scales: {x: {display: false, type: 'linear', min: -.176, max: 1.2}, y: {display: false, type: 'linear', min: scatterY[0], max: scatterY[1]}}}
});

// ---------- D: correlation ----------
const corrPoints = corrRows.flatMap((row, i) => row.map((v, k) => ({x: i + k, y: i, v})));
const FULL_R = 11.6;
place([435, 723, 684, 972], {l: 2, r: 2, t: 2, b: 2}, {
  type: 'scatter',
  data: {
    datasets: [{
      data: corrPoints,
      pointRadius: c => FULL_R * Math.sqrt(Math.abs(c.raw.v)),
      backgroundColor: c => ramp(c.raw.v),
      borderWidth: 0
    }]
  },
  options: {
    scales: {
      x: {display: false, type: 'linear', min: -.5, max: 9.5},
      y: {display: false, type: 'linear', min: -.5, max: 9.5, reverse: true}
    }
  },
  plugins: [{
    id: 'cells',
    beforeDatasetsDraw(chart) {
      const {ctx, scales: {x, y}} = chart;
      ctx.save();
      ctx.strokeStyle = '#c6c6c6';
      ctx.lineWidth = 1.4;
      corrPoints.forEach(p => {
        const x0 = x.getPixelForValue(p.x - .5), x1 = x.getPixelForValue(p.x + .5);
        const y0 = y.getPixelForValue(p.y - .5), y1 = y.getPixelForValue(p.y + .5);
        ctx.strokeRect(x0, y0, x1 - x0, y1 - y0);
      });
      ctx.restore();
    }
  }]
});

// colour bar
place([705, 734, 714, 955], {l: 1, r: 36, t: 8, b: 8}, {
  type: 'bar',
  data: {
    labels: ['corr'],
    datasets: colorbarEdges.slice(1).map((e, i) => ({
      data: [[colorbarEdges[i], e]],
      backgroundColor: ramp((colorbarEdges[i] + e) / 2),
      barPercentage: 1, categoryPercentage: 1, borderWidth: 0, grouped: false
    }))
  },
  options: {
    scales: {
      x: {display: false},
      y: Object.assign(axisOpts('right', -1.07, 1.07, colorbarTicks, 12.5), {
        grid: {display: false}
      })
    }
  },
  plugins: [frame('#222', '#222', 1.4)]
});

// ---------- text ----------
const LETTER = 'font-weight:bold;font-size:31px;';
txt('A', 15, 16, LETTER); txt('B', 377, 13, LETTER); txt('C', 377, 326, LETTER); txt('D', 378, 680, LETTER);

const SIDE = 'font-size:16px;color:#222;';
txt('Tissue Specifc', 293, 158, SIDE, 'c', -90); txt('(n=895)', 313, 158, SIDE, 'c', -90);
txt('Less Tissue Specifc', 294, 548, SIDE, 'c', -90); txt('(n=2329)', 314, 548, SIDE, 'c', -90);
txt('Ubiquitous', 295, 875, SIDE, 'c', -90); txt('(n=1469)', 316, 875, SIDE, 'c', -90);

const key = document.createElement('div');
key.style.cssText = 'position:absolute;left:288px;top:959px;width:10px;height:8px;background:#ee2a33;border:1.5px solid #333';
document.body.appendChild(key);
txt('Consistently', 306, 948, 'font-size:13px;font-style:italic', 'l');
txt('Detected', 306, 964, 'font-size:13px;font-style:italic', 'l');

// B text
txt('\u2212log<sub>10</sub>(FDR)', 403, 160, 'font-size:16.5px', 'c', -90);
txt('log<sub>2</sub> Fold Change', 570, 288, 'font-size:16px');
const GENE = 'font-size:8.3px;color:#111;';
[['AMACR', 838, 90], ['ABCC4', 686, 128], ['ZNF577', 822, 143], ['KDM4B', 624, 176], ['C1orf116', 808, 204], ['MAML3', 671, 270],
 ['ZNF577', 662, 321], ['TMPRSS2', 840, 362], ['SDK1', 685, 378], ['LUZP2', 684, 487], ['ARID1B', 785, 554], ['AKT3', 685, 575]]
  .forEach(g => txt(g[0], 375 + g[1] / 3, g[2] / 3, GENE));
txt('FDR = 0.05', 440, 208, 'font-size:10.5px;font-style:italic;color:' + DARK_RED, 'l');
txt('Sig.Down', 634, 223, 'font-size:8.3px', 'l');
txt('Sig.Up.', 634, 236, 'font-size:8.3px', 'l');
txt('Not.Sig', 634, 249, 'font-size:8.3px', 'l');

// C text
txt('log<sub>2</sub> circular FC', 398, 493, 'font-size:16px', 'c', -90);
txt('log<sub>2</sub> linear FC', 555, 638, 'font-size:16px');
const LEG = 'font-size:11.5px;color:#222;';
txt('circ\u2193 &amp; linear\u2193', 461, 383, LEG, 'l');
txt('circ\u2193 &amp; linear non sig', 461, 401, LEG, 'l');
txt('circ\u2191 &amp; linear\u2191', 461, 417, LEG, 'l');
txt('non sig', 462, 432, LEG, 'l');
txt('circFBXO7', 593, 541, 'font-size:12px;font-weight:bold;color:#2d78c4', 'l');
txt('\u03bc=0', 604, 321, 'font-size:14px;font-weight:bold;color:#f2613a', 'l');
txt('\u03bc=-0.9', 706, 546, 'font-size:14px;font-weight:bold;color:#12a050', 'l');

// D text
corrLabels.forEach((name, i) => {
  txt(name, corrLabelRight[i], 723 + 24.9 * (i + .5), 'font-size:16px', 'r');
  const d = document.createElement('div');
  d.className = 't';
  d.textContent = name;
  d.style.cssText = 'left:' + (449.5 + 24.9 * i) + 'px;top:706px;font-size:14px;line-height:16px;transform-origin:0 100%;transform:rotate(-54deg)';
  document.body.appendChild(d);
});
</script>
</body>
</html>
